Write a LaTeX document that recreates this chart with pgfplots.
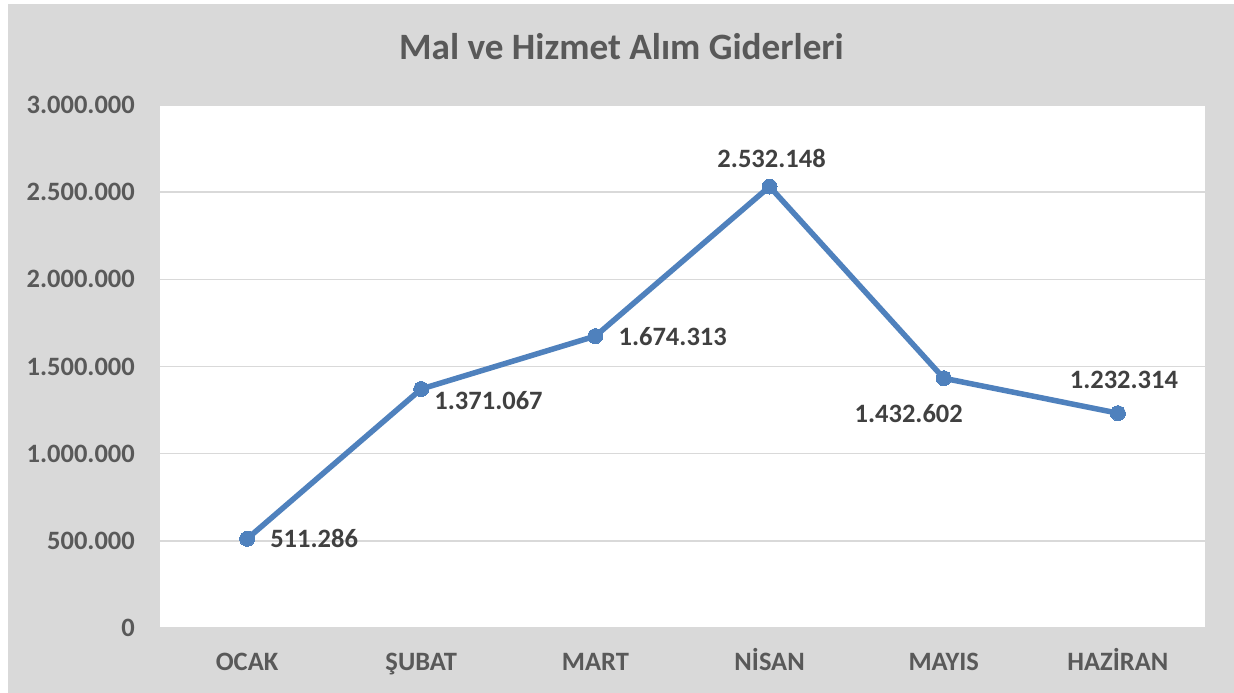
\documentclass[border=0pt]{standalone}
\usepackage{pgfplots}
\pgfplotsset{compat=1.18}
\usepackage{fontspec}
\setmainfont{Carlito}
\definecolor{bgray}{HTML}{D9D9D9}
\definecolor{tgray}{HTML}{595959}
\definecolor{lgray}{HTML}{404040}
\definecolor{lblue}{HTML}{4F81BD}
\tikzset{lbl/.style={font=\fontsize{26.5}{30}\selectfont\bfseries, text=lgray, inner sep=0pt}}
\begin{document}
\begin{tikzpicture}[x=1pt,y=1pt]
\fill[white] (0,0) rectangle (1234,693);
\fill[bgray] (8,0) rectangle (1234,689);
\node[font=\fontsize{37.2}{41}\selectfont\bfseries, text=tgray, anchor=base] at (621.5,633) {Mal ve Hizmet Alım Giderleri};
\begin{axis}[
  at={(160pt,65pt)}, anchor=south west,
  scale only axis, width=1045pt, height=523pt,
  xmin=-0.5, xmax=5.5, ymin=0, ymax=3000000,
  axis background/.style={fill=white},
  axis line style={draw=none},
  ytick={0,500000,1000000,1500000,2000000,2500000,3000000},
  scaled y ticks=false,
  ymajorgrids, grid style={bgray, line width=1.5pt},
  major tick length=0pt,
  xtick={0,1,2,3,4,5},
  xticklabels={OCAK,ŞUBAT,MART,NİSAN,MAYIS,HAZİRAN},
  ticklabel style={font=\fontsize{26.5}{30}\selectfont\bfseries, text=tgray, inner sep=0pt},
  yticklabel style={anchor=east, xshift=-25pt, /pgf/number format/fixed, /pgf/number format/precision=0, /pgf/number format/1000 sep={.}, /pgf/number format/assume math mode=true},
  xticklabel style={anchor=base, yshift=-42.5pt},
  clip=false,
]
\addplot[lblue, line width=5.5pt, line join=round, mark=*, mark size=7.5pt, mark options={fill=lblue, draw=lblue, line width=0pt}]
  coordinates {(0,511286)(1,1371067)(2,1674313)(3,2532148)(4,1432602)(5,1232314)};
\addplot[draw=none, mark=none, nodes near coords, point meta=explicit symbolic,
  nodes near coords style={lbl, anchor=west, xshift=23pt}] coordinates {(0,511286) [511.286]};
\addplot[draw=none, mark=none, nodes near coords, point meta=explicit symbolic,
  nodes near coords style={lbl, anchor=west, xshift=13pt, yshift=-12pt}] coordinates {(1,1371067) [1.371.067]};
\addplot[draw=none, mark=none, nodes near coords, point meta=explicit symbolic,
  nodes near coords style={lbl, anchor=west, xshift=23pt}] coordinates {(2,1674313) [1.674.313]};
\addplot[draw=none, mark=none, nodes near coords, point meta=explicit symbolic,
  nodes near coords style={lbl, anchor=center, xshift=2pt, yshift=28pt}] coordinates {(3,2532148) [2.532.148]};
\addplot[draw=none, mark=none, nodes near coords, point meta=explicit symbolic,
  nodes near coords style={lbl, anchor=center, xshift=-35pt, yshift=-35pt}] coordinates {(4,1432602) [1.432.602]};
\addplot[draw=none, mark=none, nodes near coords, point meta=explicit symbolic,
  nodes near coords style={lbl, anchor=center, xshift=6pt, yshift=33pt}] coordinates {(5,1232314) [1.232.314]};
\end{axis}
\end{tikzpicture}
\end{document}
